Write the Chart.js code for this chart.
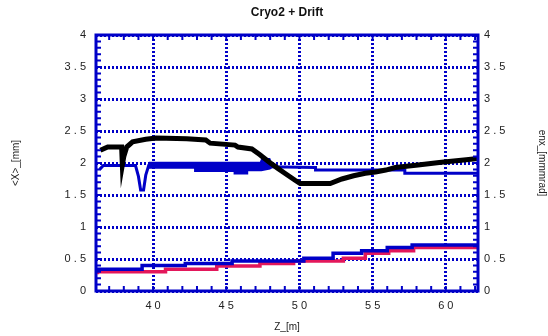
<!DOCTYPE html>
<html>
<head>
<meta charset="utf-8">
<title>Cryo2 + Drift</title>
<script src="https://cdn.jsdelivr.net/npm/chart.js@4.4.0/dist/chart.umd.min.js"></script>
<style>
  html, body { margin: 0; padding: 0; background: #fff; }
  #wrap { width: 548px; height: 336px; }
</style>
</head>
<body>
<div id="wrap"><canvas id="beamChart"></canvas></div>
<script>
// Z axis labels [m]
const xTicks = [40, 45, 50, 55, 60];

// <X> along the line [mm] (black)
const xMeanZ = [36.4, 36.9, 37.85, 37.9, 38.0, 38.2, 38.6, 39.5, 40.2, 42.3, 43.6, 43.9, 45.6, 45.8, 46.75, 47.3, 47.9, 48.5, 49.0, 49.7, 50.05, 52.1, 52.9, 53.7, 54.5, 55.2, 55.9, 56.55, 58.1, 59.7, 61.4, 62.2];
const xMean  = [2.20, 2.25, 2.25, 1.97, 2.10, 2.25, 2.33, 2.37, 2.39, 2.38, 2.36, 2.31, 2.28, 2.25, 2.22, 2.13, 2.02, 1.92, 1.84, 1.73, 1.68, 1.68, 1.75, 1.80, 1.84, 1.86, 1.89, 1.93, 1.97, 2.01, 2.05, 2.07];

// second centroid curve (blue)
const yMeanZ = [36.35, 36.6, 38.8, 39.0, 39.15, 39.35, 39.5, 39.7, 47.9, 51.1, 51.1, 57.2, 57.2, 62.2];
const yMean  = [1.90, 1.96, 1.96, 1.79, 1.58, 1.58, 1.81, 1.96, 1.94, 1.93, 1.89, 1.89, 1.84, 1.84];

// spread of the blue curve where it oscillates fast
const bandZ  = [39.7, 42.8, 42.8, 45.5, 45.5, 46.5, 46.5, 47.3, 47.4, 48.0, 48.2];
const bandHi = [2.02, 2.02, 2.02, 2.02, 2.02, 2.02, 2.02, 2.02, 2.08, 2.08, 1.96];
const bandLo = [1.91, 1.91, 1.86, 1.86, 1.82, 1.82, 1.87, 1.87, 1.87, 1.90, 1.93];

// emittances [mm mrad], stepped
const enxZ = [36.2, 39.25, 42.2, 45.4, 50.3, 52.3, 54.25, 56.0, 57.7, 61.3, 62.2];
const enx  = [0.30, 0.34, 0.40, 0.43, 0.47, 0.51, 0.59, 0.63, 0.68, 0.72, 0.72];
const enyZ = [36.2, 40.85, 44.35, 47.3, 49.6, 53.0, 54.5, 56.1, 57.8, 59.4, 62.2];
const eny  = [0.26, 0.30, 0.34, 0.39, 0.43, 0.47, 0.51, 0.59, 0.63, 0.68, 0.68];

const pts = (zs, vs) => zs.map((z, i) => ({ x: z, y: vs[i] }));
const spaced = v => String(v).split('').join(' ');

const BLUE = '#0000c8';

// frame plus small inward ticks on all four sides
const frame = {
  id: 'frame',
  afterDraw(chart) {
    const { ctx, chartArea: a, scales: { x, y } } = chart;
    ctx.save();
    ctx.strokeStyle = BLUE;
    ctx.lineWidth = 2;
    ctx.beginPath();
    for (let z = 37; z <= 62; z++) {
      const px = x.getPixelForValue(z);
      ctx.moveTo(px, a.bottom); ctx.lineTo(px, a.bottom - 5);
      ctx.moveTo(px, a.top); ctx.lineTo(px, a.top + 5);
    }
    for (let i = 1; i < 40; i++) {
      const py = y.getPixelForValue(i / 10);
      ctx.moveTo(a.left, py); ctx.lineTo(a.left + 5, py);
      ctx.moveTo(a.right, py); ctx.lineTo(a.right - 5, py);
    }
    ctx.stroke();
    ctx.lineWidth = 3;
    ctx.strokeRect(a.left, a.top, a.right - a.left, a.bottom - a.top);
    ctx.restore();
  }
};

const tickFont = { family: 'Liberation Sans, Arial, sans-serif', size: 11 };
const titleFont = { family: 'Liberation Sans, Arial, sans-serif', size: 10 };

new Chart(document.getElementById('beamChart'), {
  type: 'line',
  data: {
    datasets: [
      { label: '<X>', data: pts(xMeanZ, xMean), borderColor: '#000', borderWidth: 5 },
      { label: '<Y>', data: pts(yMeanZ, yMean), borderColor: BLUE, borderWidth: 3 },
      { label: 'band hi', data: pts(bandZ, bandHi), borderWidth: 0, borderColor: BLUE },
      { label: 'band lo', data: pts(bandZ, bandLo), borderWidth: 0, borderColor: BLUE,
        fill: '-1', backgroundColor: BLUE },
      { label: 'enx', data: pts(enxZ, enx), borderColor: BLUE, borderWidth: 3.5, stepped: 'after' },
      { label: 'eny', data: pts(enyZ, eny), borderColor: '#e3175b', borderWidth: 3.5, stepped: 'after' }
    ]
  },
  options: {
    responsive: true,
    maintainAspectRatio: false,
    animation: false,
    elements: { point: { radius: 0 }, line: { tension: 0 } },
    layout: { padding: 0 },
    plugins: {
      legend: { display: false },
      tooltip: { enabled: false },
      title: {
        display: true,
        text: 'Cryo2 + Drift',
        fullSize: false,
        color: '#111',
        font: { family: 'Liberation Sans, Arial, sans-serif', size: 12, weight: 'bold' },
        padding: { top: 5, bottom: 15.6 }
      }
    },
    scales: {
      x: {
        type: 'linear',
        min: 36.1,
        max: 62.2,
        afterBuildTicks: s => { s.ticks = xTicks.map(v => ({ value: v })); },
        afterFit: s => { s.height = 45; },
        ticks: { callback: spaced, color: '#222', font: tickFont, padding: 8, maxRotation: 0 },
        grid: { color: BLUE, lineWidth: 3, drawTicks: false },
        border: { display: false, dash: [2, 2] },
        title: { display: true, text: 'Z_[m]', color: '#222', font: titleFont, padding: { top: 0, bottom: 3 } }
      },
      y: {
        position: 'left',
        min: 0,
        max: 4,
        ticks: { stepSize: 0.5, callback: spaced, color: '#222', font: tickFont, padding: 10 },
        afterFit: s => { s.width = 96; },
        grid: { color: BLUE, lineWidth: 3, drawTicks: false },
        border: { display: false, dash: [2, 2] },
        title: { display: true, text: '<X>_[mm]', color: '#222', font: titleFont, padding: { top: 10, bottom: 0 } }
      },
      y2: {
        position: 'right',
        min: 0,
        max: 4,
        ticks: { stepSize: 0.5, callback: spaced, color: '#222', font: tickFont, padding: 6 },
        afterFit: s => { s.width = 70; },
        grid: { display: false, drawTicks: false },
        border: { display: false },
        title: { display: true, text: 'enx_[mmmrad]', color: '#222', font: titleFont, padding: { top: 0, bottom: 0 } }
      }
    }
  },
  plugins: [frame]
});
</script>
</body>
</html>
